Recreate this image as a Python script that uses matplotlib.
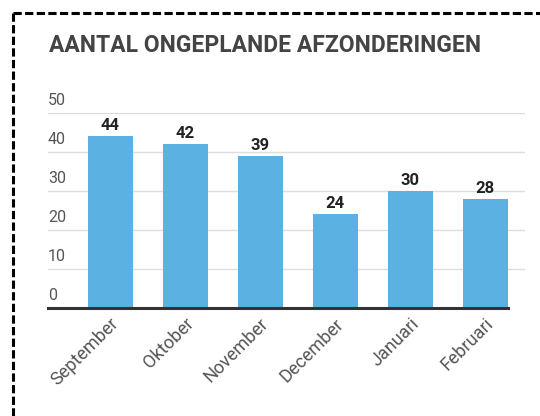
import matplotlib.pyplot as plt
from matplotlib.lines import Line2D
import matplotlib.transforms as mtransforms

plt.rcParams['font.family'] = ['Roboto', 'DejaVu Sans']

months = ["September", "Oktober", "November", "December", "Januari", "Februari"]
counts = [44, 42, 39, 24, 30, 28]
yticks = [0, 10, 20, 30, 40, 50]
title = "AANTAL ONGEPLANDE AFZONDERINGEN"

W, H = 540, 416
fig = plt.figure(figsize=(W / 100, H / 100), dpi=100)
fig.patch.set_facecolor('white')

# axes placed in pixel terms
left, right, top, bottom = 48, 525, 113, 308
ax = fig.add_axes([left / W, 1 - bottom / H, (right - left) / W, (bottom - top) / H])

x = range(len(months))
ax.bar(x, counts, width=0.6, color='#5AB1E2', zorder=2)

ax.set_xlim(-0.827, 5.533)
ax.set_ylim(0, 50)

# grid lines
for t in yticks[1:]:
    ax.axhline(t, color='#dddddd', linewidth=1, zorder=1)
ax.plot([-0.827, 5.3], [0, 0], color='#333333', linewidth=2.2, zorder=3, clip_on=False)

for s in ax.spines.values():
    s.set_visible(False)
ax.set_yticks([])
ax.set_xticks([])

# rotated month labels, right end just past the bar centre
offset = mtransforms.ScaledTranslation(0.06, -0.13, fig.dpi_scale_trans)
for i, m in enumerate(months):
    ax.text(i, 0, m, rotation=45, ha='right', va='center', rotation_mode='anchor',
            fontsize=13, color='#555555',
            transform=ax.transData + offset)

# y labels sitting above the grid lines
trans = mtransforms.blended_transform_factory(ax.transAxes, ax.transData)
for t in yticks:
    ax.text(0.0, t + 1.2, str(t), transform=trans, ha='left', va='bottom',
            fontsize=11.5, color='#555555')

# value labels
for i, v in enumerate(counts):
    ax.text(i, v + 0.8, str(v), ha='center', va='bottom', fontsize=12,
            fontweight='bold', color='#222222')

fig.text(49 / W, 1 - 45 / H, title, ha='left', va='center', fontsize=16.5,
         fontweight='bold', color='#444444')

# dashed frame (top and left edges only show)
ty = 1 - 13 / H
lx = 13 / W
for xs, ys in [([lx, 1.01], [ty, ty]), ([lx, lx], [ty, -0.01])]:
    fig.add_artist(Line2D(xs, ys, transform=fig.transFigure, color='black',
                          linewidth=2.2, linestyle=(0, (2.7, 1.1))))

fig.savefig('out.png', dpi=100)
